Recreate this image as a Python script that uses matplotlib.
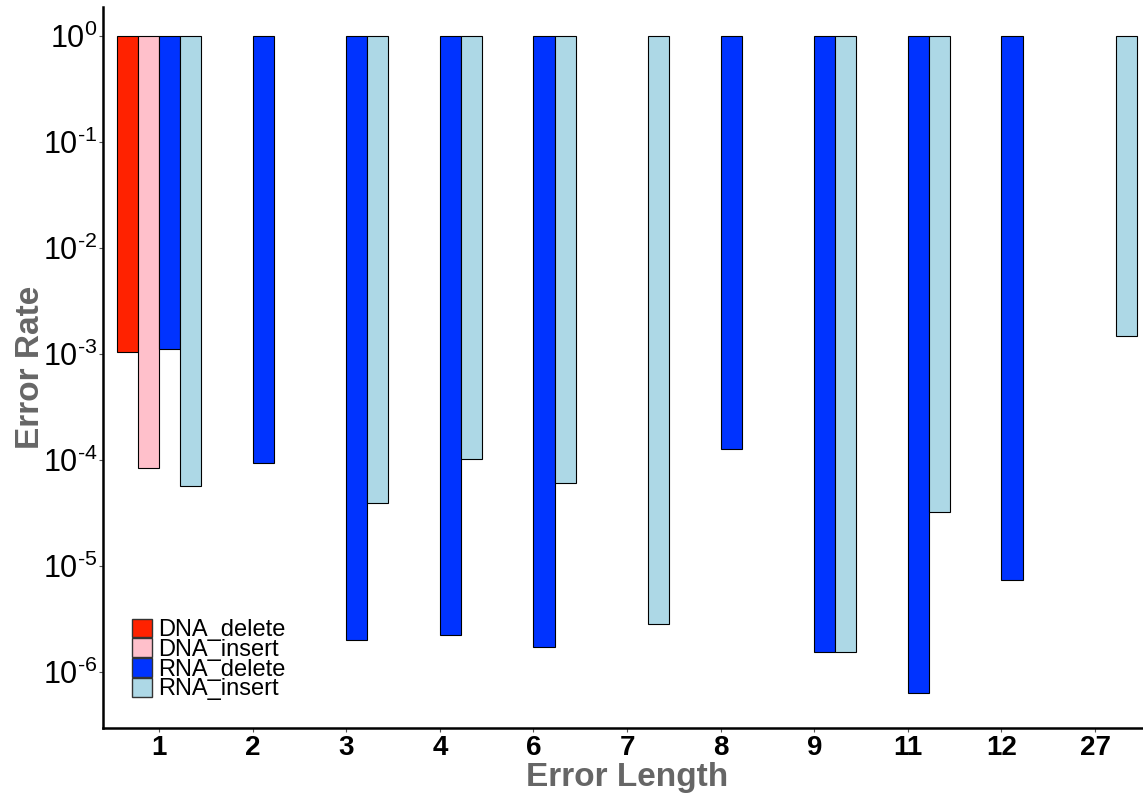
import numpy as np
import matplotlib
matplotlib.use("Agg")
import matplotlib.pyplot as plt
from matplotlib.patches import Patch

plt.rcParams['font.family'] = ['Liberation Sans', 'DejaVu Sans']
plt.rcParams['mathtext.fontset'] = 'custom'
plt.rcParams['mathtext.rm'] = 'Liberation Sans'
plt.rcParams['mathtext.default'] = 'regular'

categories = ["1", "2", "3", "4", "6", "7", "8", "9", "11", "12", "27"]
series = ["DNA_delete", "DNA_insert", "RNA_delete", "RNA_insert"]
colors = ["#FF2200", "#FFC0CB", "#0033FF", "#ADD8E6"]

nan = np.nan
DNA_delete = [1.05e-3, nan, nan, nan, nan, nan, nan, nan, nan, nan, nan]
DNA_insert = [8.4e-5, nan, nan, nan, nan, nan, nan, nan, nan, nan, nan]
RNA_delete = [1.1e-3, 9.4e-5, 2.0e-6, 2.2e-6, 1.7e-6, nan, 1.27e-4, 1.55e-6, 6.3e-7, 7.4e-6, nan]
RNA_insert = [5.7e-5, nan, 3.9e-5, 1.02e-4, 6.0e-5, 2.8e-6, nan, 1.55e-6, 3.2e-5, nan, 1.48e-3]
values = [DNA_delete, DNA_insert, RNA_delete, RNA_insert]

yticks = [1e0, 1e-1, 1e-2, 1e-3, 1e-4, 1e-5, 1e-6]
ytick_labels = ["$10^{0}$", "$10^{\u20101}$", "$10^{\u20102}$", "$10^{\u20103}$",
                "$10^{\u20104}$", "$10^{\u20105}$", "$10^{\u20106}$"]

fig = plt.figure(figsize=(11.43, 7.99), dpi=100)
ax = fig.add_axes([0.090, 0.089, 0.909, 0.902])

x = np.arange(len(categories))
w = 0.225
for i, (name, vals, c) in enumerate(zip(series, values, colors)):
    v = np.array(vals, dtype=float)
    m = ~np.isnan(v)
    ax.bar(x[m] + (i - 1.5) * w, 1 - v[m], bottom=v[m], width=w,
           color=c, edgecolor="black", linewidth=0.8)

ax.set_yscale("log")
ax.set_ylim(2.95e-7, 1.87)
ax.set_xlim(-0.6, 10.5)
ax.set_yticks(yticks)
ax.set_yticklabels(ytick_labels, fontsize=22)
ax.yaxis.set_minor_locator(matplotlib.ticker.NullLocator())
ax.set_xticks(x)
ax.set_xticklabels(categories, fontsize=20, fontweight="bold")
ax.tick_params(axis="both", length=3, width=0.8, color="#555555")
ax.tick_params(axis="y", pad=1)
ax.tick_params(axis="x", pad=2)

for s in ["top", "right"]:
    ax.spines[s].set_visible(False)
for s in ["left", "bottom"]:
    ax.spines[s].set_linewidth(1.8)

ax.set_xlabel("Error Length", fontsize=24, fontweight="bold", color="#666666")
ax.set_ylabel("Error Rate", fontsize=24, fontweight="bold", color="#666666")
ax.xaxis.set_label_coords(0.505, -0.048)
ax.yaxis.set_label_coords(-0.055, 0.50)

handles = [Patch(facecolor=c, edgecolor="#333333", linewidth=1.0, label=n) for n, c in zip(series, colors)]
leg = ax.legend(handles=handles, loc="lower left", bbox_to_anchor=(0.019, 0.025), frameon=False,
                fontsize=17, handlelength=0.85, handleheight=0.85, handletextpad=0.25,
                labelspacing=-0.12, borderaxespad=0)

fig.savefig("out.png", dpi=100)
